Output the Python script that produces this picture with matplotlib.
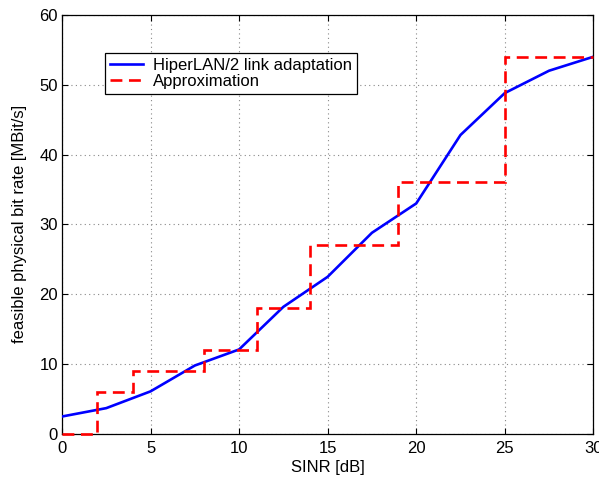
import matplotlib
matplotlib.use("Agg")
import matplotlib.pyplot as plt

plt.rcParams['font.family'] = ['Liberation Sans', 'DejaVu Sans']

# HiperLAN/2 link adaptation curve
sinr_db = [0, 2.5, 5, 7.5, 10, 12.5, 15, 17.5, 20, 22.5, 25, 27.5, 30]
link_rate = [2.5, 3.7, 6.1, 9.8, 12.1, 18.2, 22.5, 28.8, 33.0, 42.8, 48.8, 52.0, 54.0]

# Step approximation: switching thresholds and PHY rates
step_edges = [0, 2, 4, 8, 11, 14, 19, 25, 30]
step_rates = [0, 6, 9, 12, 18, 27, 36, 54]

x_ticks = [0, 5, 10, 15, 20, 25, 30]
y_ticks = [0, 10, 20, 30, 40, 50, 60]

fig = plt.figure(figsize=(5.99, 4.79), dpi=100)
ax = fig.add_axes([0.1035, 0.094, 0.887, 0.875])

ax.plot(sinr_db, link_rate, color='#0000ff', lw=1.9,
        label='HiperLAN/2 link adaptation', zorder=3)
ax.stairs(step_rates, step_edges, baseline=None, color='#ff0000', lw=1.9,
          linestyle=(0, (4.5, 2.5)), label='Approximation', zorder=4,
          clip_on=False)

ax.set_xlim(0, 30)
ax.set_ylim(0, 60)
ax.set_xticks(x_ticks)
ax.set_yticks(y_ticks)
ax.tick_params(direction='in', top=True, right=True, labelsize=12,
               length=4, width=0.8)
ax.tick_params(axis='x', pad=5)
ax.tick_params(axis='y', pad=3)
ax.grid(True, color='#888888', linestyle=(0, (1, 3)), linewidth=0.8)
for s in ax.spines.values():
    s.set_linewidth(0.9)

ax.set_xlabel('SINR [dB]', fontsize=12, labelpad=3)
ax.set_ylabel('feasible physical bit rate [MBit/s]', fontsize=12, labelpad=9)

leg = ax.legend(loc='upper left', bbox_to_anchor=(0.081, 0.91), fontsize=12,
                frameon=True, fancybox=False, framealpha=1, edgecolor='black',
                handlelength=2.0, handletextpad=0.6, borderpad=0.3,
                labelspacing=0.1, borderaxespad=0)
leg.get_frame().set_linewidth(0.9)

fig.savefig('out.png', dpi=100)
